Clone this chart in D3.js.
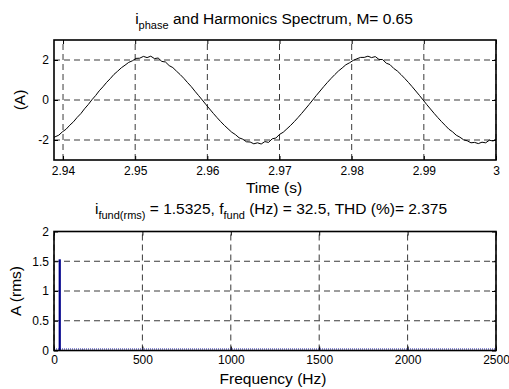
<!DOCTYPE html>
<html><head><meta charset="utf-8">
<script src="https://cdn.jsdelivr.net/npm/d3@7"></script>
<style>body{margin:0;background:#fff}text{font-family:"Liberation Sans",Arial,sans-serif;fill:#000}</style>
</head><body>
<svg id="c" width="509" height="389"></svg>
<script>
// ---- data ----
const timeStart = 2.93839;   // s, first sample
const timeStep = 0.00051;    // s, sample spacing
const currentValues = [
 -1.95,-1.84,-1.76,-1.59,-1.46,-1.26,-1.09,-0.87,-0.68,-0.44,-0.23,0.01,
 0.22,0.46,0.66,0.88,1.07,1.28,1.44,1.61,1.74,1.88,1.96,2.08,2.09,2.18,2.12,
 2.19,2.07,2.10,1.93,1.90,1.72,1.62,1.44,1.27,1.08,0.87,0.67,0.44,0.22,0.00,
 -0.23,-0.45,-0.67,-0.88,-1.08,-1.27,-1.44,-1.61,-1.73,-1.89,-1.96,-2.09,-2.10,-2.19,-2.14,
 -2.20,-2.08,-2.12,-1.94,-1.90,-1.72,-1.61,-1.44,-1.27,-1.08,-0.88,-0.67,-0.45,-0.23,0.00,
 0.23,0.45,0.67,0.88,1.08,1.27,1.45,1.60,1.76,1.86,1.98,2.06,2.13,2.13,2.19,
 2.12,2.17,2.03,2.02,1.84,1.77,1.58,1.45,1.27,1.08,0.88,0.67,0.45,0.23,0.00,
 -0.23,-0.45,-0.67,-0.88,-1.08,-1.27,-1.46,-1.59,-1.76,-1.86,-1.99,-2.04,-2.14,-2.12,-2.18,
 -2.11,-2.14,-2.01,-2.05,-1.95
];
const timeTicks = [2.94, 2.95, 2.96, 2.97, 2.98, 2.99, 3];
const timeTickLabels = ["2.94","2.95","2.96","2.97","2.98","2.99","3"];
const currentTicks = [-2, 0, 2];

const harmFreq = [32.5, 162.5, 227.5, 357.5, 422.5, 617.5, 812.5, 1007.5, 1462.5, 1982.5];
const harmAmp  = [1.5325, 0.012, 0.010, 0.008, 0.007, 0.005, 0.006, 0.004, 0.005, 0.004];
const freqTicks = [0, 500, 1000, 1500, 2000, 2500];
const ampTicks = [0, 0.5, 1, 1.5, 2];
const ampTickLabels = ["0","0.5","1","1.5","2"];

// ---- drawing ----
const svg = d3.select("#c");
const TICKFONT = 12;
const LABFONT = 15.5;
const SUBFONT = 11;

function panel(cfg){
  const g = svg.append("g");
  const {x, y} = cfg;
  const [x0,x1] = x.range(), [yb,yt] = y.range();
  g.append("g").selectAll("line").data(cfg.xTicks).join("line")
    .attr("x1",d=>x(d)).attr("x2",d=>x(d)).attr("y1",yb).attr("y2",yt)
    .attr("stroke","#3a3a3a").attr("stroke-width",1).attr("stroke-dasharray","6,4");
  g.append("g").selectAll("line").data(cfg.yTicks).join("line")
    .attr("x1",x0).attr("x2",x1).attr("y1",d=>y(d)).attr("y2",d=>y(d))
    .attr("stroke","#3a3a3a").attr("stroke-width",1).attr("stroke-dasharray","6,4");
  const ax = g.append("g").attr("transform",`translate(0,${yb})`)
    .call(d3.axisBottom(x).tickValues(cfg.xTicks).tickSizeInner(-4).tickSizeOuter(0).tickPadding(cfg.xPad).tickFormat((d,i)=>cfg.xLabels[i]));
  const axT = g.append("g").attr("transform",`translate(0,${yt})`)
    .call(d3.axisTop(x).tickValues(cfg.xTicks).tickSizeInner(-4).tickSizeOuter(0).tickFormat(""));
  const ay = g.append("g").attr("transform",`translate(${x0},0)`)
    .call(d3.axisLeft(y).tickValues(cfg.yTicks).tickSizeInner(-4).tickSizeOuter(0).tickPadding(5).tickFormat((d,i)=>cfg.yLabels[i]));
  const ayR = g.append("g").attr("transform",`translate(${x1},0)`)
    .call(d3.axisRight(y).tickValues(cfg.yTicks).tickSizeInner(-4).tickSizeOuter(0).tickFormat(""));
  [ax,axT,ay,ayR].forEach(a=>{
    a.select(".domain").remove();
    a.selectAll("text").style("font-size",TICKFONT+"px").attr("fill","#000");
    a.selectAll(".tick line").attr("stroke","#000");
  });
  cfg.draw(g);
  g.append("rect").attr("x",x0).attr("y",yt).attr("width",x1-x0).attr("height",yb-yt)
    .attr("fill","none").attr("stroke","#000").attr("stroke-width",1.6);
  return g;
}

// top panel
const xT = d3.scaleLinear().domain([2.93875, 3.0]).range([54, 496]);
const yT = d3.scaleLinear().domain([-3, 3]).range([160, 40]);
svg.append("clipPath").attr("id","clipT").append("rect").attr("x",54).attr("y",40).attr("width",442).attr("height",120);
panel({x:xT, y:yT, xTicks:timeTicks, xLabels:timeTickLabels, yTicks:currentTicks, yLabels:currentTicks.map(String), xPad:6,
  draw:g=>{
    const line = d3.line().x((d,i)=>xT(timeStart + i*timeStep)).y(d=>yT(d));
    g.append("path").datum(currentValues).attr("d",line).attr("clip-path","url(#clipT)")
      .attr("fill","none").attr("stroke","#000").attr("stroke-width",1);
  }});

// bottom panel
const xB = d3.scaleLinear().domain([0, 2500]).range([54, 496]);
const yB = d3.scaleLinear().domain([0, 2]).range([350.5, 231.5]);
panel({x:xB, y:yB, xTicks:freqTicks, xLabels:freqTicks.map(String), yTicks:ampTicks, yLabels:ampTickLabels, xPad:5,
  draw:g=>{
    g.append("line").attr("x1",xB(0)).attr("x2",xB(2500)).attr("y1",yB(0)-1.5).attr("y2",yB(0)-1.5)
      .attr("stroke","#1a1aa8").attr("stroke-width",1.2).attr("stroke-dasharray","1,1");
    g.selectAll("line.stem").data(harmFreq).join("line").attr("class","stem")
      .attr("x1",d=>xB(d)).attr("x2",d=>xB(d)).attr("y1",yB(0)).attr("y2",(d,i)=>yB(harmAmp[i]))
      .attr("stroke","#00008b").attr("stroke-width",2.2);
  }});

// titles & labels
function subText(xc, yb, parts){
  const t = svg.append("text").attr("x",xc).attr("y",yb).attr("text-anchor","middle").style("font-size",LABFONT+"px");
  let prevSub = false;
  parts.forEach(p=>{
    const sp = t.append("tspan").text(p.t);
    if(p.sub){ sp.style("font-size",SUBFONT+"px").attr("dy", prevSub?0:5); prevSub=true; }
    else { if(prevSub) sp.attr("dy",-5); prevSub=false; }
  });
}
subText(274, 24, [{t:"i"},{t:"phase",sub:true},{t:" and Harmonics Spectrum, M= 0.65"}]);
subText(271, 214, [{t:"i"},{t:"fund(rms)",sub:true},{t:" = 1.5325, f"},{t:"fund",sub:true},{t:" (Hz) = 32.5, THD (%)= 2.375"}]);
svg.append("text").attr("x",274).attr("y",193).attr("text-anchor","middle").style("font-size",LABFONT+"px").text("Time (s)");
svg.append("text").attr("x",273).attr("y",384).attr("text-anchor","middle").style("font-size",LABFONT+"px").text("Frequency (Hz)");
svg.append("text").attr("transform","translate(25,100) rotate(-90)").attr("text-anchor","middle").style("font-size",LABFONT+"px").text("(A)");
svg.append("text").attr("transform","translate(21,291) rotate(-90)").attr("text-anchor","middle").style("font-size",LABFONT+"px").text("A (rms)");
</script>
</body></html>
